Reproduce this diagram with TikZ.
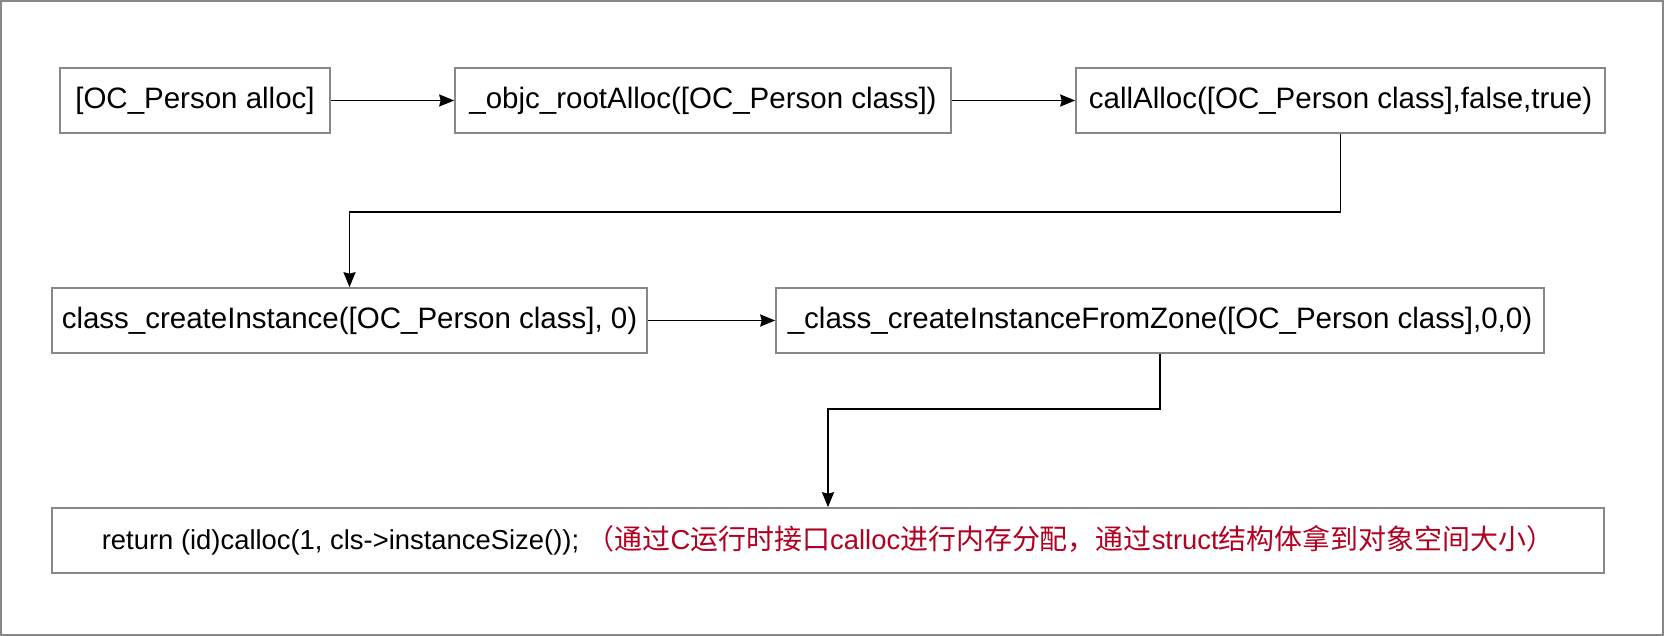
\documentclass[tikz,border=0pt]{standalone}
\usepackage{fontspec}
\setmainfont{Liberation Sans}
\newfontfamily\cjk[Scale=1.02]{Noto Sans CJK SC}
\usetikzlibrary{arrows.meta}
\definecolor{boxgray}{RGB}{136,136,136}
\definecolor{notered}{RGB}{178,0,32}
\tikzset{
  stepbox/.style={draw=boxgray, line width=1.6pt, minimum height=65pt, inner sep=0pt, anchor=center,
    font=\fontsize{29.5}{35}\selectfont, text=black},
  arr/.style={draw=black, line width=1.8pt, -{Stealth[length=15pt,width=12pt,inset=1.5pt]}}
}
\begin{document}
\begin{tikzpicture}[x=1pt,y=-1pt]
\useasboundingbox (0,0) rectangle (1664,636);
\draw[boxgray, line width=1.6pt] (1,1) rectangle (1663,635);
\node[stepbox, minimum width=270pt] (b1) at (195,100.5) {[OC\_Person alloc]};
\node[stepbox, minimum width=496pt] (b2) at (703,100.5) {\_objc\_rootAlloc([OC\_Person class])};
\node[stepbox, minimum width=529pt] (b3) at (1340.5,100.5) {callAlloc([OC\_Person class],false,true)};
\node[stepbox, minimum width=595pt] (b4) at (349.5,320.5) {class\_createInstance([OC\_Person class], 0)};
\node[stepbox, minimum width=768pt] (b5) at (1160,320.5) {\_class\_createInstanceFromZone([OC\_Person class],0,0)};
\node[stepbox, minimum width=1552pt, font=\fontsize{27.4}{33}\selectfont] (b6) at (828,540.5) {return (id)calloc(1, cls->instanceSize());\ \textcolor{notered}{{\cjk （通过}C{\cjk 运行时接口}calloc{\cjk 进行内存分配，通过}struct{\cjk 结构体拿到对象空间大小）}}};
\draw[arr] (b1.east) -- (b2.west);
\draw[arr] (b2.east) -- (b3.west);
\draw[arr] (b3.south) -- ++(0,78) -| (b4.north);
\draw[arr] (b4.east) -- (b5.west);
\draw[arr] (b5.south) -- ++(0,55) -| (b6.north);
\end{tikzpicture}
\end{document}
